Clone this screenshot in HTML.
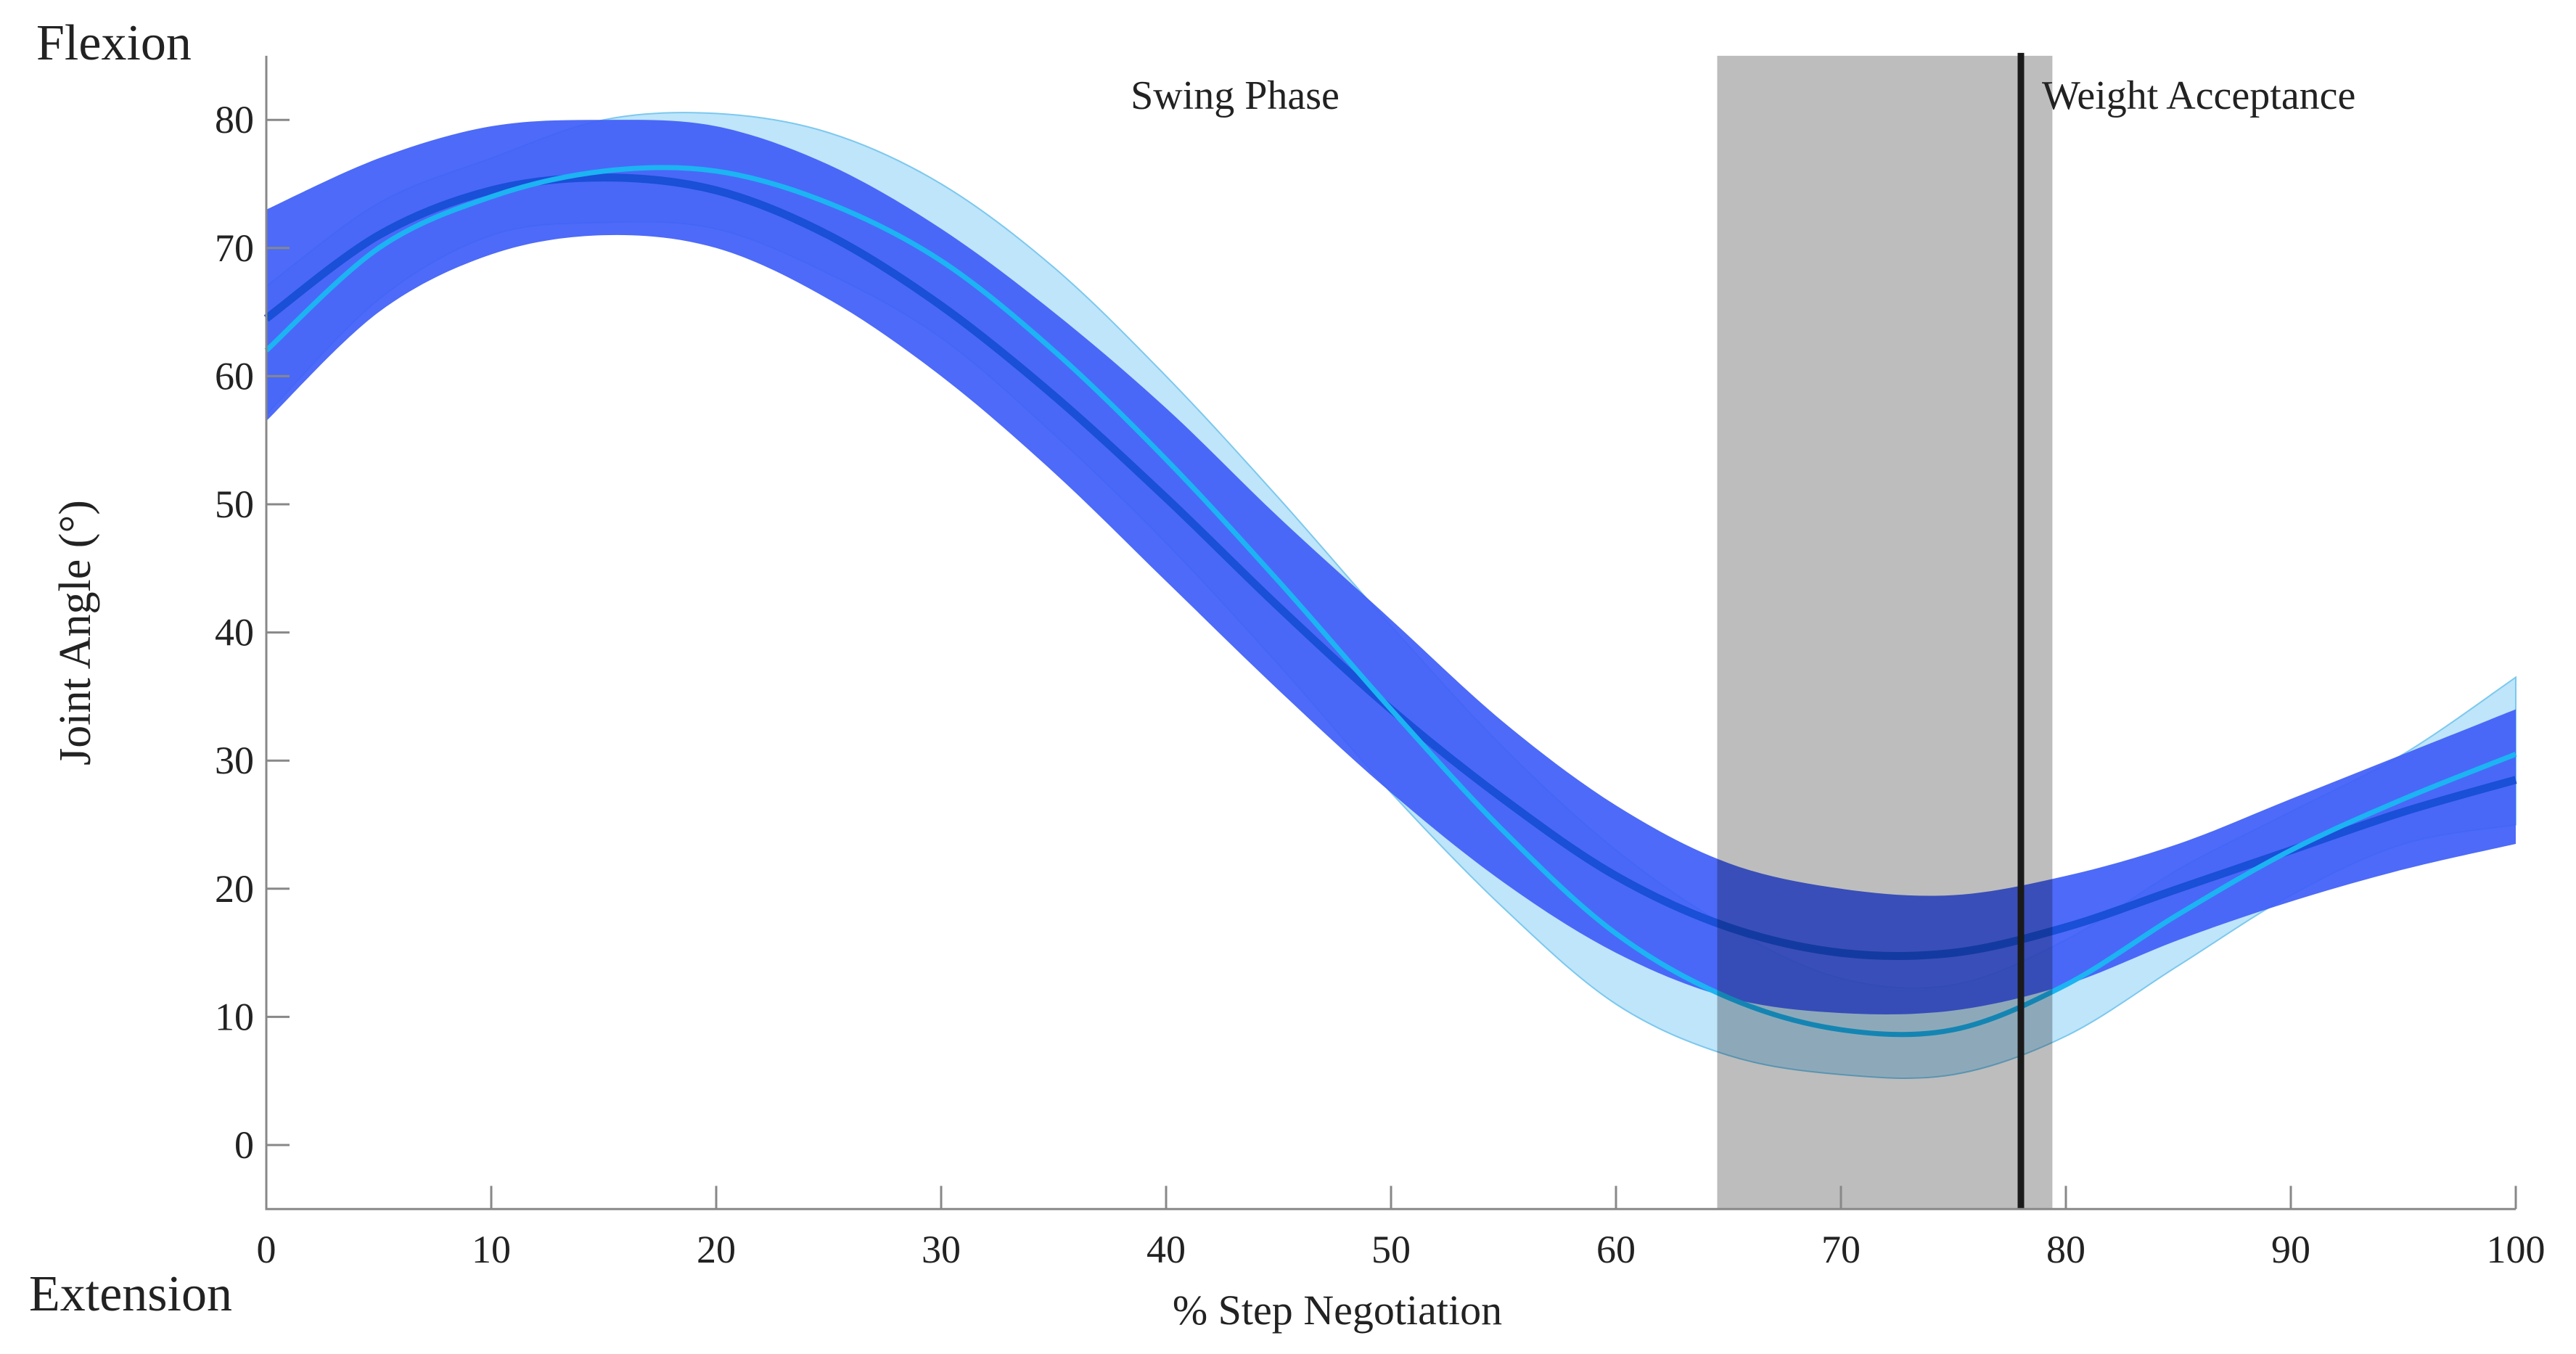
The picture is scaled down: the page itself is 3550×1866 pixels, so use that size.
<!DOCTYPE html>
<html><head><meta charset="utf-8"><style>
html,body{margin:0;padding:0;background:#fff;}
svg{display:block;}
text{font-family:"Liberation Serif",serif;fill:#222;}
</style></head><body>
<svg id="chart" width="3550" height="1866" viewBox="0 0 3550 1866" xmlns="http://www.w3.org/2000/svg">
<g id="bands"></g>
<g id="lines"></g>
<g id="overlay"></g>
<g id="axes"></g>
</svg>
<script>
const xs = [0,5,10,15,20,25,30,35,40,45,50,55,60,65,70,75,80,85,90,95,100];
const darkMean  = [64.5,71,74.5,75.5,74.5,71,65.5,58.5,50.5,42,34,27,21,17,15,15,17,20,23,26,28.5];
const darkUpper = [73,77,79.5,80,79.5,76.5,71.5,65,57.5,49,41,33,26.5,22,20,19.5,21,23.5,27,30.5,34];
const darkLower = [56.5,65,69.5,71,70,66,60,52.5,44,35.5,27.5,20.5,15,11.5,10.3,10.5,12.5,16,19,21.5,23.5];
const cyanMean  = [62,70,74,76,76,73.5,69,62,53.5,44,34,24.5,16.5,11.5,9,9,12.5,18,23,27,30.5];
const cyanUpper = [67,73.5,77,80,80.5,79,75,68.5,60,50.5,40.5,31,23,17,13,12.5,16,21.5,26,30.5,36.5];
const cyanLower = [57,66,71,72,71.5,68,63,55.5,47,37.5,27.5,18.5,11,7,5.5,5.5,8.5,14,19.5,23.5,25];
const xTicks = [0,10,20,30,40,50,60,70,80,90,100];
const yTicks = [0,10,20,30,40,50,60,70,80];
const phaseStart = 64.5, phaseEnd = 79.4, eventX = 78.0;
const yMin = -5, yMax = 85;

const X = v => 367 + v * 31;
const Y = v => 1578 - v * 17.66;
const NS = "http://www.w3.org/2000/svg";
function mk(tag, attrs, parent){ const e=document.createElementNS(NS,tag); for(const k in attrs) e.setAttribute(k,attrs[k]); parent.appendChild(e); return e; }

function curve(xv, yv, move){
  const p = xv.map((x,i)=>[X(x),Y(yv[i])]);
  let d = (move ? "M" : "L") + p[0][0] + "," + p[0][1];
  for(let i=0;i<p.length-1;i++){
    const p0=p[Math.max(0,i-1)], p1=p[i], p2=p[i+1], p3=p[Math.min(p.length-1,i+2)];
    const c1=[p1[0]+(p2[0]-p0[0])/6, p1[1]+(p2[1]-p0[1])/6];
    const c2=[p2[0]-(p3[0]-p1[0])/6, p2[1]-(p3[1]-p1[1])/6];
    d += "C"+c1[0]+","+c1[1]+" "+c2[0]+","+c2[1]+" "+p2[0]+","+p2[1];
  }
  return d;
}
function band(upper, lower){
  return curve(xs, upper, true) + curve(xs.slice().reverse(), lower.slice().reverse(), false).replace(/^M/,"L") + "Z";
}
const bands = document.getElementById("bands");
const lines = document.getElementById("lines");
const overlay = document.getElementById("overlay");
const axes = document.getElementById("axes");

const cb = mk("path",{d:band(cyanUpper,cyanLower),fill:"#a8dcf8","fill-opacity":"0.75",stroke:"#7cc8ee","stroke-width":"2"},bands);


const db = mk("path",{d:band(darkUpper,darkLower),fill:"#3f5ff7","fill-opacity":"0.93"},bands);


const dl = mk("path",{d:curve(xs,darkMean,true),fill:"none",stroke:"#1a4fd8","stroke-width":"11"},lines);


const cl = mk("path",{d:curve(xs,cyanMean,true),fill:"none",stroke:"#1cb4f2","stroke-width":"7"},lines);



const gr = mk("rect",{x:X(phaseStart),y:Y(yMax),width:X(phaseEnd)-X(phaseStart),height:Y(yMin)-Y(yMax),fill:"#000","fill-opacity":"0.26"},overlay);


const ev = mk("line",{x1:X(eventX),x2:X(eventX),y1:Y(yMax)-4,y2:Y(yMin),stroke:"#1a1a1a","stroke-width":"9"},overlay);



const ax = mk("path",{d:"M"+X(0)+","+Y(yMax)+"V"+Y(yMin)+"H"+X(100),fill:"none",stroke:"#888","stroke-width":"3"},axes);


xTicks.forEach(t=>{
  const l = mk("line",{x1:X(t),x2:X(t),y1:Y(yMin),y2:Y(yMin)-32,stroke:"#888","stroke-width":"3"},axes);
  
  
  const tx = mk("text",{x:X(t),y:1740,"font-size":"54","text-anchor":"middle"},axes);
  tx.textContent = t;
  
  
});
yTicks.forEach(t=>{
  const l = mk("line",{x1:X(0),x2:X(0)+32,y1:Y(t),y2:Y(t),stroke:"#888","stroke-width":"3"},axes);
  
  
  const tx = mk("text",{x:350,y:Y(t)+18,"font-size":"54","text-anchor":"end"},axes);
  tx.textContent = t;
  
  
});
</script>
<svg style="position:absolute;left:0;top:0" width="3550" height="1866">
<text x="50" y="82" font-size="70">Flexion</text>
<text x="40" y="1806" font-size="70">Extension</text>
<text x="1702" y="150" font-size="56" text-anchor="middle">Swing Phase</text>
<text x="2814" y="150" font-size="56">Weight Acceptance</text>
<text x="1843" y="1825" font-size="58" text-anchor="middle">% Step Negotiation</text>
<text x="0" y="0" font-size="62" text-anchor="middle" transform="translate(124,872) rotate(-90)">Joint  Angle  (°)</text>
</svg>
</body></html>
